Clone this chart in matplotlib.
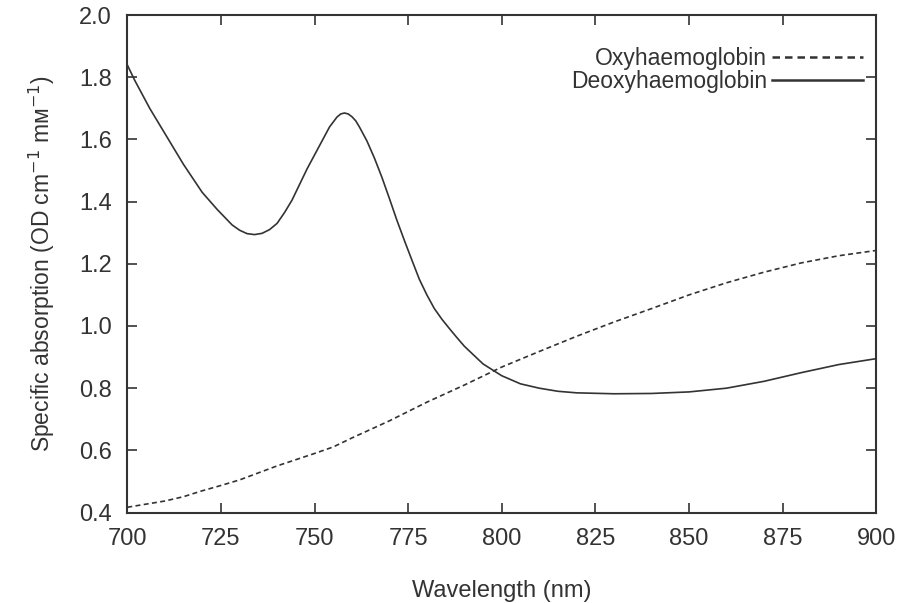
import matplotlib
matplotlib.use('Agg')
import matplotlib.pyplot as plt

plt.rc('font', family=['Liberation Sans', 'DejaVu Sans'], size=17)

# values
deoxy_nm = [700, 702, 704, 706, 708, 710, 715, 720, 724, 726, 728, 730, 732, 734,
            736, 738, 740, 742, 744, 746, 748, 750, 752, 754, 756, 757, 758, 759,
            760, 761, 762, 764, 766, 768, 770, 772, 774, 776, 778, 780, 782, 784,
            786, 788, 790, 795, 800, 805, 810, 815, 820, 830, 840, 850, 860, 870,
            880, 890, 900]
deoxy = [1.84, 1.79, 1.745, 1.70, 1.66, 1.62, 1.52, 1.43, 1.375, 1.35, 1.325, 1.308,
         1.297, 1.294, 1.298, 1.31, 1.33, 1.365, 1.405, 1.455, 1.505, 1.55, 1.595,
         1.64, 1.672, 1.682, 1.685, 1.682, 1.673, 1.66, 1.64, 1.595, 1.54, 1.478,
         1.41, 1.34, 1.275, 1.212, 1.15, 1.10, 1.056, 1.022, 0.992, 0.963, 0.935,
         0.878, 0.84, 0.814, 0.80, 0.79, 0.785, 0.782, 0.783, 0.788, 0.80, 0.822,
         0.85, 0.876, 0.895]

oxy_nm = [700, 710, 715, 720, 725, 730, 740, 750, 755, 760, 770, 775, 780, 790, 800,
          810, 820, 830, 840, 850, 860, 870, 880, 890, 900]
oxy = [0.417, 0.437, 0.451, 0.47, 0.487, 0.505, 0.55, 0.59, 0.611, 0.64, 0.695, 0.725,
       0.755, 0.81, 0.868, 0.918, 0.967, 1.013, 1.056, 1.10, 1.139, 1.173, 1.203,
       1.226, 1.243]

x_ticks = [700, 725, 750, 775, 800, 825, 850, 875, 900]
y_ticks = [0.4, 0.6, 0.8, 1.0, 1.2, 1.4, 1.6, 1.8, 2.0]

ink = '#333333'

fig = plt.figure(figsize=(9.09, 6.03), dpi=100)
ax = fig.add_axes([0.14, 0.15, 0.824, 0.825])

ax.plot(oxy_nm, oxy, color=ink, lw=1.2, ls=(0, (3, 2)), label='Oxyhaemoglobin')
ax.plot(deoxy_nm, deoxy, color=ink, lw=1.2, label='Deoxyhaemoglobin')

ax.set_xlim(700, 900)
ax.set_ylim(0.4, 2.0)
ax.set_xticks(x_ticks)
ax.set_yticks(y_ticks)
ax.set_yticklabels(['%.1f' % v for v in y_ticks])
ax.tick_params(direction='in', length=7, width=1.2, top=True, right=True,
               colors=ink, labelcolor=ink, labelsize=17)
ax.tick_params(axis='x', pad=11)
ax.tick_params(axis='y', pad=11)
for s in ax.spines.values():
    s.set_linewidth(1.5)
    s.set_color(ink)

ax.set_xlabel('Wavelength (nm)', color=ink, fontsize=17, labelpad=22)
ax.set_ylabel('Specific absorption (OD cm$^{-1}$ m\u1d0d$^{-1}$)', color=ink,
              fontsize=16.5, labelpad=16)

leg = ax.legend(loc='upper right', frameon=False, markerfirst=False,
                handlelength=4.0, handletextpad=0.2, labelspacing=0.0,
                fontsize=16.5, bbox_to_anchor=(0.995, 0.955), borderaxespad=0)
for t in leg.get_texts():
    t.set_color(ink)
for ln in leg.get_lines():
    ln.set_linewidth(1.8)

fig.savefig('out.png', dpi=100)
